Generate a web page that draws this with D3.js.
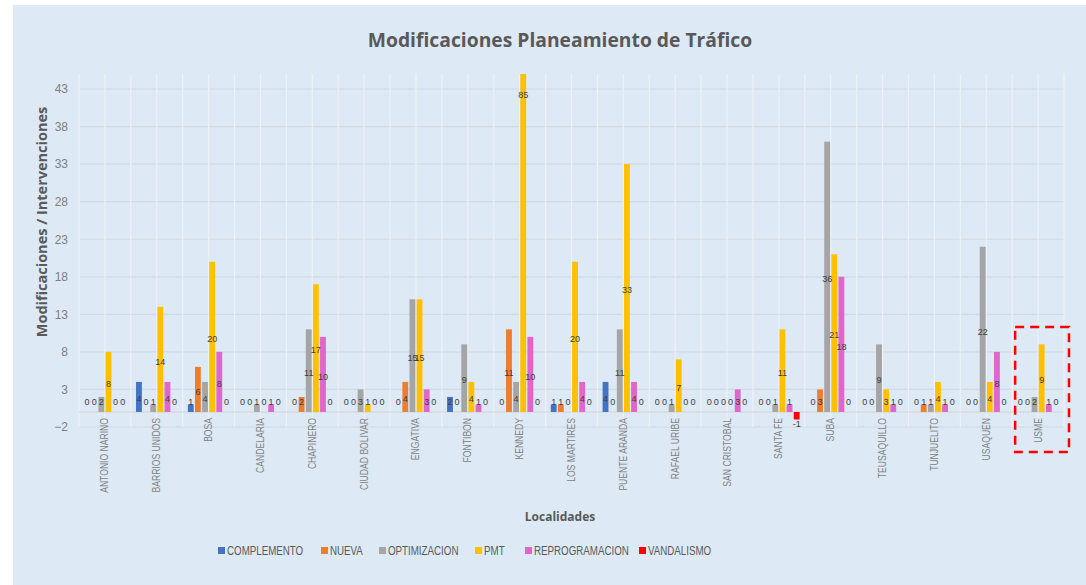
<!DOCTYPE html>
<html>
<head>
<meta charset="utf-8">
<script src="https://cdn.jsdelivr.net/npm/d3@7"></script>
<style>
  body { margin: 0; background: #ffffff; }
</style>
</head>
<body>
<div id="my_dataviz"></div>
<script>
// Data
var localidades = ["ANTONIO NARINO", "BARRIOS UNIDOS", "BOSA", "CANDELARIA", "CHAPINERO",
  "CIUDAD BOLIVAR", "ENGATIVA", "FONTIBON", "KENNEDY", "LOS MARTIRES", "PUENTE ARANDA",
  "RAFAEL URIBE", "SAN CRISTOBAL", "SANTA FE", "SUBA", "TEUSAQUILLO", "TUNJUELITO",
  "USAQUEN", "USME"];
var series = ["COMPLEMENTO", "NUEVA", "OPTIMIZACION", "PMT", "REPROGRAMACION", "VANDALISMO"];
var complemento    = [0, 4, 1, 0, 0, 0, 0, 2, 0, 1, 4, 0, 0, 0, 0, 0, 0, 0, 0];
var nueva          = [0, 0, 6, 0, 2, 0, 4, 0, 11, 1, 0, 0, 0, 0, 3, 0, 1, 0, 0];
var optimizacion   = [2, 1, 4, 1, 11, 3, 15, 9, 4, 0, 11, 1, 0, 1, 36, 9, 1, 22, 2];
var pmt            = [8, 14, 20, 0, 17, 1, 15, 4, 85, 20, 33, 7, 0, 11, 21, 3, 4, 4, 9];
var reprogramacion = [0, 4, 8, 1, 10, 0, 3, 1, 10, 4, 4, 0, 3, 1, 18, 1, 1, 8, 1];
var vandalismo     = [0, 0, 0, 0, 0, 0, 0, 0, 0, 0, 0, 0, 0, -1, 0, 0, 0, 0, 0];
var yTicks = [-2, 3, 8, 13, 18, 23, 28, 33, 38, 43];
var yDomain = [-2, 45];
var highlighted = "USME"; // the dashed red box

var seriesValues = [complemento, nueva, optimizacion, pmt, reprogramacion, vandalismo];
var colors = ["#4472C4", "#ED7D31", "#A5A5A5", "#FFC000", "#E066CC", "#FF0000"];

// Build rows for d3
var rows = localidades.map(function(name, i) {
  var r = {group: name};
  series.forEach(function(s, j) { r[s] = seriesValues[j][i]; });
  return r;
});

// squeeze text horizontally to mimic a narrow (Calibri-like) face
function condense(sel, k) {
  sel.each(function() {
    var w = this.getComputedTextLength();
    d3.select(this).attr("textLength", w * k).attr("lengthAdjust", "spacingAndGlyphs");
  });
}

var W = 1086, H = 585;
var margin = {top: 74, right: 22, bottom: 158, left: 79};
var width = W - margin.left - margin.right,
    height = H - margin.top - margin.bottom;

var svg = d3.select("#my_dataviz").append("svg")
  .attr("width", W)
  .attr("height", H)
  .style("display", "block")
  .style("font-family", "'Liberation Sans', Arial, sans-serif");

// chart background
svg.append("rect")
  .attr("x", 13).attr("y", 5)
  .attr("width", W - 13).attr("height", H - 5)
  .attr("fill", "#DDE9F5");

var g = svg.append("g")
  .attr("transform", "translate(" + margin.left + "," + margin.top + ")");

var x0 = d3.scaleBand().domain(localidades).range([0, width]).padding(0);
var x1 = d3.scaleBand().domain(series)
  .range([x0.bandwidth() * 0.1, x0.bandwidth() * 0.9])
  .paddingInner(0.18);
var y = d3.scaleLinear().domain(yDomain).range([height, 0]);
var color = d3.scaleOrdinal().domain(series).range(colors);

// horizontal gridlines
g.append("g").selectAll("line")
  .data(yTicks).enter().append("line")
    .attr("x1", 0).attr("x2", width)
    .attr("y1", function(d) { return y(d); })
    .attr("y2", function(d) { return y(d); })
    .attr("stroke", "#D3DAE2").attr("stroke-width", 1.2);

// vertical gridlines (category borders + centers)
var vLines = [];
localidades.forEach(function(l) {
  vLines.push(x0(l));
  vLines.push(x0(l) + x0.bandwidth() / 2);
});
vLines.push(width);
g.append("g").selectAll("line")
  .data(vLines).enter().append("line")
    .attr("x1", function(d) { return d; }).attr("x2", function(d) { return d; })
    .attr("y1", 0).attr("y2", height)
    .attr("stroke", "#EEF2F6").attr("stroke-width", 1.2);

// category axis line at zero
g.append("line")
  .attr("x1", 0).attr("x2", width)
  .attr("y1", y(0)).attr("y2", y(0))
  .attr("stroke", "#D3D3D3").attr("stroke-width", 1.2);

// Y axis
var yAxis = g.append("g")
  .call(d3.axisLeft(y).tickValues(yTicks).tickSize(0).tickPadding(11));
yAxis.select(".domain").remove();
yAxis.selectAll("text")
  .style("font-size", "12px")
  .style("font-family", "'Liberation Sans', Arial, sans-serif")
  .attr("fill", "#7F7F7F");

// clip the bars to the plot area
g.append("clipPath").attr("id", "plotclip")
  .append("rect").attr("x", 0).attr("y", 0).attr("width", width).attr("height", height);

var groups = g.append("g").attr("clip-path", "url(#plotclip)")
  .selectAll("g")
  .data(rows).enter().append("g")
    .attr("transform", function(d) { return "translate(" + x0(d.group) + ",0)"; });

groups.selectAll("rect")
  .data(function(d) { return series.map(function(s) { return {key: s, value: d[s]}; }); })
  .enter().append("rect")
    .attr("x", function(d) { return x1(d.key); })
    .attr("width", x1.bandwidth())
    .attr("y", function(d) { return y(Math.max(0, d.value)); })
    .attr("height", function(d) { return Math.abs(y(d.value) - y(0)); })
    .attr("fill", function(d) { return color(d.key); });

// data labels (centered on the bar)
var labels = g.append("g").selectAll("g")
  .data(rows).enter().append("g")
    .attr("transform", function(d) { return "translate(" + x0(d.group) + ",0)"; });

labels.selectAll("text")
  .data(function(d) { return series.map(function(s) { return {key: s, value: d[s]}; }); })
  .enter().append("text")
    .attr("x", function(d) { return x1(d.key) + x1.bandwidth() / 2; })
    .attr("y", function(d) {
      if (d.value < 0) return y(0) + 12;
      return Math.min(y(d.value / 2) + 2, y(0) - 10);
    })
    .attr("dy", "0.35em")
    .attr("text-anchor", "middle")
    .style("font-size", "9px")
    .attr("fill", "#404040")
    .text(function(d) { return d.value; });

// category labels (rotated)
var catLabels = g.append("g").selectAll("text")
  .data(localidades).enter().append("text")
    .attr("transform", function(d) {
      return "translate(" + (x0(d) + x0.bandwidth() / 2) + "," + (y(0) + 6) + ") rotate(-90)";
    })
    .attr("dy", "0.35em")
    .attr("text-anchor", "end")
    .style("font-size", "10px")
    .attr("fill", "#7F7F7F")
    .text(function(d) { return d; });
condense(catLabels, 0.86);

// highlight box around USME
var hx = x0(highlighted);
g.append("rect")
  .attr("x", hx + 3).attr("y", y(11.3))
  .attr("width", x0.bandwidth() + 2).attr("height", 125)
  .attr("fill", "none")
  .attr("stroke", "#FF0000").attr("stroke-width", 2.5)
  .attr("stroke-dasharray", "9,6");

// Titles
svg.append("text")
  .attr("x", 560).attr("y", 47)
  .attr("text-anchor", "middle")
  .style("font-family", "'Open Sans', sans-serif")
  .style("font-size", "19.3px").style("font-weight", "bold")
  .attr("fill", "#595959")
  .text("Modificaciones Planeamiento de Tráfico");

svg.append("text")
  .attr("transform", "translate(47,222) rotate(-90)")
  .attr("text-anchor", "middle")
  .style("font-family", "'Open Sans', sans-serif")
  .style("font-size", "14.5px").style("font-weight", "bold")
  .attr("fill", "#595959")
  .text("Modificaciones / Intervenciones");

svg.append("text")
  .attr("x", 560).attr("y", 521)
  .attr("text-anchor", "middle")
  .style("font-family", "'Open Sans', sans-serif")
  .style("font-size", "12px").style("font-weight", "bold")
  .attr("fill", "#595959")
  .text("Localidades");

// Legend
var legendX = [218, 321, 379, 475, 525, 639];
var legend = svg.selectAll(".legend")
  .data(series).enter().append("g")
    .attr("class", "legend")
    .attr("transform", function(d, i) { return "translate(" + legendX[i] + ",551)"; });

legend.append("rect")
  .attr("x", 0).attr("y", -4)
  .attr("width", 7).attr("height", 7)
  .attr("fill", function(d) { return color(d); });

var legendText = legend.append("text")
  .attr("x", 9).attr("y", 0)
  .attr("dy", "0.35em")
  .style("font-size", "12.5px")
  .attr("fill", "#595959")
  .text(function(d) { return d; });
condense(legendText, 0.78);
</script>
</body>
</html>
